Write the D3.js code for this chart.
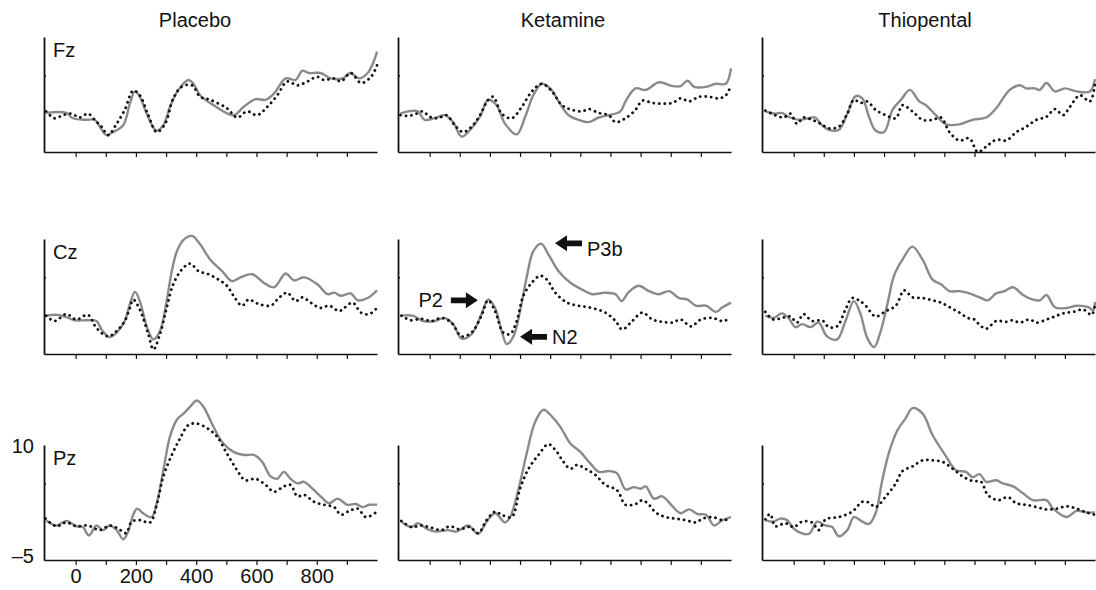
<!DOCTYPE html>
<html>
<head>
<meta charset="utf-8">
<script src="https://cdn.jsdelivr.net/npm/d3@7"></script>
<style>
  body { margin: 0; background: #fff; }
  text { font-family: "Liberation Sans", Arial, sans-serif; fill: #111; }
</style>
</head>
<body>
<div id="chart"></div>
<script>
// Column (condition) and row (electrode site) names
const drugs = ["Placebo", "Ketamine", "Thiopental"];
const sites = ["Fz", "Cz", "Pz"];

// Tick values (ms) and the labels shown on the bottom-left panel only
const xTicks = [0, 100, 200, 300, 400, 500, 600, 700, 800, 900];
const xTickLabels = [0, 200, 400, 600, 800];
const yTickLabels = [10, -5];

// ERP traces as [ms, microvolt] pairs
// solid grey = target, dotted black = standard
const fzPlaSolid = [[-98,0.1],[-31,0.1],[-9,-0.6],[36,-0.8],[63,-0.8],[80,-1.7],[102,-2.8],[124,-2.4],[158,-1.5],[180,1.3],[197,2.9],[213,2.2],[236,0.0],[267,-2.2],[291,-1.5],[313,0.9],[341,3.1],[374,4.4],[391,3.9],[413,2.4],[458,1.1],[524,-0.2],[558,0.9],[597,1.9],[630,1.8],[658,2.6],[697,4.6],[730,4.4],[752,5.6],[774,5.3],[813,5.3],[847,4.6],[886,4.6],[911,5.3],[941,4.6],[969,5.3],[991,7.0],[1000,8.1]];
const fzPlaDot = [[-98,0.3],[-70,-0.6],[-42,-0.2],[-14,0.0],[13,-0.5],[41,0.0],[63,-0.8],[86,-1.7],[108,-2.8],[136,-1.3],[163,0.5],[191,3.0],[213,2.4],[241,-0.2],[269,-2.4],[297,-1.3],[324,2.0],[352,3.5],[386,3.7],[413,2.2],[447,1.8],[502,0.7],[536,-0.5],[569,0.3],[602,-0.2],[636,0.9],[669,2.4],[702,4.2],[736,3.7],[769,4.2],[802,4.8],[824,4.4],[858,4.6],[880,4.2],[913,5.3],[947,4.0],[980,4.8],[1000,6.3]];

const fzKetSolid = [[-97,0.0],[-72,0.3],[-39,0.3],[-17,-0.8],[22,-0.5],[50,-0.2],[78,-1.1],[106,-3.0],[139,-1.9],[167,-0.4],[194,1.8],[222,1.1],[250,-1.3],[289,-2.7],[317,-0.4],[344,2.4],[372,3.9],[400,3.3],[428,1.6],[461,-0.2],[494,-0.8],[528,-1.1],[561,-0.5],[594,-0.2],[633,0.3],[650,1.6],[683,3.3],[717,3.1],[761,4.1],[806,3.6],[833,3.6],[856,4.3],[878,3.5],[917,3.5],[950,3.9],[983,3.9],[1000,5.9]];
const fzKetDot = [[-97,-0.2],[-72,-0.3],[-44,0.0],[-22,0.3],[0,-0.4],[28,-0.6],[56,-0.2],[83,-1.5],[111,-2.4],[139,-1.7],[167,-0.2],[194,1.8],[211,2.2],[239,0.0],[272,-0.6],[306,0.9],[339,2.9],[372,3.9],[406,2.9],[439,1.1],[472,0.5],[506,0.3],[528,0.6],[561,0.1],[594,-0.2],[617,-1.1],[650,-0.6],[683,0.5],[706,1.7],[739,1.4],[772,1.3],[806,1.4],[833,2.0],[861,1.6],[894,2.2],[928,2.2],[961,2.0],[983,2.4],[1000,3.7]];

const fzThiSolid = [[-94,0.3],[-61,0.0],[-39,0.1],[-17,-0.4],[17,-0.8],[50,-0.6],[72,-0.5],[89,-1.3],[117,-2.1],[150,-2.1],[178,0.0],[206,2.3],[228,2.0],[250,-0.4],[272,-2.2],[300,-2.4],[328,0.5],[356,1.8],[386,3.1],[417,1.6],[439,1.1],[472,-0.2],[506,-1.4],[550,-1.4],[594,-0.8],[639,-0.5],[672,0.7],[717,3.1],[750,3.7],[772,3.3],[800,3.3],[817,3.1],[839,4.0],[867,2.9],[900,3.3],[939,2.9],[983,2.9],[1000,4.5]];
const fzThiDot = [[-94,0.4],[-61,-0.2],[-33,-0.5],[-11,0.0],[11,-1.3],[33,-0.5],[61,-0.8],[89,-1.3],[117,-1.9],[150,-1.7],[178,0.0],[200,1.8],[222,1.4],[244,1.6],[272,0.5],[306,-0.2],[339,-0.6],[361,1.1],[394,0.3],[428,-0.8],[461,-0.8],[489,-0.5],[517,-2.4],[550,-3.5],[583,-3.2],[611,-5.0],[639,-4.3],[672,-3.4],[706,-3.5],[739,-2.4],[772,-1.7],[806,-0.8],[839,-0.4],[867,0.6],[894,-0.2],[917,0.9],[950,2.4],[983,1.6],[1000,3.9]];

const czPlaSolid = [[-98,0.0],[-59,0.1],[-31,-0.2],[-3,-0.6],[36,-0.6],[69,-0.7],[86,-1.8],[113,-2.8],[141,-2.0],[163,-0.7],[180,1.5],[197,3.1],[213,1.9],[236,-1.4],[258,-3.1],[280,-2.0],[302,1.9],[319,5.8],[336,8.4],[358,9.9],[386,10.4],[413,9.3],[447,7.3],[486,5.8],[519,4.5],[547,5.0],[586,5.4],[624,4.3],[658,3.7],[697,5.5],[724,4.6],[758,5.0],[802,4.1],[836,2.8],[858,3.0],[880,2.6],[913,2.9],[936,2.0],[969,2.3],[1000,3.3]];
const czPlaDot = [[-98,0.0],[-70,-0.7],[-31,0.2],[2,-0.5],[41,0.1],[69,-1.6],[108,-2.7],[141,-1.8],[163,-0.7],[180,1.0],[191,2.1],[213,0.8],[241,-2.4],[258,-4.4],[280,-2.4],[302,1.0],[324,4.1],[352,6.0],[380,6.8],[408,5.8],[441,5.4],[474,4.7],[502,3.9],[524,2.6],[552,1.3],[574,2.1],[602,1.6],[647,1.3],[674,2.3],[702,3.0],[730,1.9],[752,2.4],[780,1.7],[813,1.0],[841,1.3],[874,0.6],[891,1.0],[919,1.7],[947,0.4],[974,0.2],[1000,1.0]];

const czKetSolid = [[-94,0.0],[-56,0.0],[-22,-0.7],[17,-0.7],[50,-0.3],[78,-1.1],[106,-3.0],[139,-2.4],[172,0.2],[194,2.1],[217,1.0],[239,-2.0],[256,-3.7],[278,-2.7],[300,0.6],[322,5.0],[344,8.4],[370,9.4],[394,8.0],[428,5.8],[467,4.3],[506,3.4],[539,2.8],[583,3.0],[617,2.8],[637,1.9],[661,3.1],[694,3.9],[728,3.2],[761,2.8],[794,3.2],[828,2.3],[856,2.1],[883,1.3],[917,1.3],[950,0.5],[972,1.1],[1000,1.7]];
const czKetDot = [[-94,0.0],[-61,-0.6],[-28,-0.4],[6,-0.7],[39,-0.3],[72,-0.9],[106,-2.7],[139,-2.2],[172,0.0],[194,2.0],[217,0.6],[244,-2.2],[267,-2.4],[289,-0.7],[311,2.6],[339,4.3],[367,5.2],[389,4.7],[417,3.0],[456,1.7],[494,1.3],[539,1.0],[583,0.4],[617,-0.7],[639,-1.8],[672,-0.7],[706,0.4],[739,-0.5],[772,-0.8],[806,-0.9],[833,-0.5],[867,-1.4],[900,-0.5],[939,-0.3],[972,-0.7],[1000,-0.3]];

const czThiSolid = [[-94,0.0],[-67,-0.3],[-39,0.3],[-17,-0.3],[6,-1.5],[28,-1.1],[56,-1.5],[83,-0.9],[111,-2.7],[144,-3.1],[172,-0.7],[200,1.9],[222,0.2],[244,-2.9],[267,-4.1],[289,-2.0],[311,1.5],[333,5.2],[361,7.3],[394,9.0],[428,7.3],[461,4.7],[489,4.1],[517,3.2],[550,3.2],[583,2.9],[617,2.4],[644,2.0],[672,2.9],[700,3.2],[728,3.7],[761,2.7],[794,2.1],[817,2.0],[839,2.7],[867,1.1],[906,1.0],[939,1.3],[978,1.1],[994,0.7],[1000,1.8]];
const czThiDot = [[-94,0.5],[-67,-0.5],[-39,-0.3],[-11,-0.1],[11,-0.9],[33,0.2],[61,-0.7],[94,-0.6],[117,-1.5],[144,-1.4],[172,0.8],[194,2.3],[217,2.0],[239,1.3],[272,-0.1],[306,0.6],[339,1.3],[367,3.3],[394,2.4],[428,2.3],[461,2.0],[489,1.7],[522,1.0],[550,0.4],[578,-0.3],[600,-0.5],[617,-1.2],[639,-1.7],[672,-0.7],[706,-0.8],[728,-0.6],[750,-0.9],[783,-0.5],[806,-0.9],[839,-0.5],[867,-0.1],[894,0.3],[928,0.5],[961,0.8],[989,0.1],[1000,1.5]];

const pzPlaSolid = [[-100,0.2],[-64,-0.5],[-31,0.1],[2,-0.6],[24,-0.7],[44,-1.8],[69,-0.5],[91,-1.1],[113,-0.5],[136,-1.1],[158,-2.3],[174,-1.3],[191,0.9],[204,1.7],[224,1.1],[252,0.6],[269,2.4],[291,6.7],[313,11.1],[336,13.3],[358,14.1],[380,15.0],[402,15.8],[424,15.0],[452,12.8],[486,10.4],[524,9.1],[558,8.7],[591,8.7],[619,7.8],[647,5.9],[669,5.6],[691,6.5],[713,5.6],[736,5.0],[758,5.2],[786,4.3],[813,3.3],[841,2.4],[869,3.0],[902,2.2],[930,2.3],[952,1.9],[974,2.2],[1000,2.2]];
const pzPlaDot = [[-100,0.4],[-64,-0.6],[-31,-0.1],[2,-0.6],[41,-0.5],[80,-1.1],[113,-0.5],[141,-0.9],[167,-1.5],[186,0.0],[213,0.2],[247,-0.1],[269,2.2],[291,5.9],[319,8.7],[347,10.9],[374,12.6],[402,12.8],[436,12.2],[469,11.1],[502,8.9],[536,6.7],[563,5.4],[597,5.6],[630,4.8],[658,3.9],[691,4.6],[713,4.8],[736,3.3],[758,3.5],[791,2.6],[824,2.2],[858,1.9],[880,0.9],[908,1.4],[936,1.7],[963,0.6],[1000,1.3]];

const pzKetSolid = [[-94,0.0],[-61,-0.7],[-39,-0.2],[-11,-0.9],[22,-1.3],[61,-1.1],[89,-1.3],[128,-0.5],[161,-1.6],[189,0.0],[217,1.1],[250,-0.1],[267,0.6],[294,4.1],[322,8.9],[350,13.0],[378,14.6],[406,13.7],[433,12.4],[467,10.2],[500,9.1],[533,7.6],[561,6.5],[594,6.6],[622,6.3],[650,4.2],[678,4.5],[700,4.3],[717,4.6],[744,3.0],[772,3.3],[806,2.0],[833,1.1],[861,1.6],[889,1.0],[917,0.9],[944,-0.5],[972,0.2],[1000,0.6]];
const pzKetDot = [[-94,0.1],[-61,-0.7],[-28,-0.5],[6,-0.8],[39,-1.1],[67,-0.6],[100,-1.0],[133,-0.7],[161,-1.5],[189,0.2],[217,1.3],[239,0.9],[272,0.6],[300,4.3],[328,6.9],[361,8.7],[394,10.1],[422,9.1],[444,7.8],[467,6.9],[489,7.4],[517,6.9],[550,6.1],[583,4.8],[622,4.1],[650,2.2],[683,2.3],[706,2.8],[728,2.2],[750,1.2],[783,0.6],[817,0.4],[850,0.2],[883,-0.1],[906,0.4],[939,0.6],[972,0.2],[1000,0.4]];

const pzThiSolid = [[-94,0.2],[-67,0.0],[-44,0.4],[-22,0.2],[6,-1.1],[50,-1.6],[78,0.0],[106,-0.5],[128,-0.7],[150,-1.9],[178,-1.1],[200,0.6],[228,0.0],[250,-0.3],[272,1.1],[294,5.4],[317,9.1],[344,11.9],[372,13.5],[394,14.8],[428,14.1],[461,11.3],[506,8.5],[539,6.7],[572,6.5],[594,5.8],[617,6.2],[639,5.2],[672,5.4],[694,5.0],[728,4.6],[761,3.7],[794,2.8],[839,2.8],[861,1.7],[906,0.6],[939,1.4],[972,1.2],[1000,1.2]];
const pzThiDot = [[-94,0.3],[-78,1.0],[-61,-0.6],[-28,-0.2],[0,-0.7],[28,0.0],[61,-0.1],[83,-1.1],[106,0.3],[150,0.6],[194,1.3],[228,2.6],[250,2.5],[272,1.9],[306,3.3],[339,5.0],[361,6.6],[394,7.2],[428,8.0],[461,8.0],[494,7.8],[528,6.9],[561,5.9],[594,5.3],[622,5.2],[644,3.5],[678,2.8],[711,3.2],[739,2.4],[772,2.2],[806,1.9],[839,1.6],[872,1.7],[906,2.0],[939,1.7],[972,1.2],[1000,0.9]];

// Component labels in the Ketamine / Cz panel: arrow tip in data coords, dir +1 = points right
const annotations = [
  { label: "P2", t: 160, v: 2.0, dir: 1 },
  { label: "N2", t: 300, v: -2.76, dir: -1 },
  { label: "P3b", t: 416, v: 9.43, dir: -1 }
];

// rows = sites, cols = drugs
const traces = [
  [[fzPlaSolid, fzPlaDot], [fzKetSolid, fzKetDot], [fzThiSolid, fzThiDot]],
  [[czPlaSolid, czPlaDot], [czKetSolid, czKetDot], [czThiSolid, czThiDot]],
  [[pzPlaSolid, pzPlaDot], [pzKetSolid, pzKetDot], [pzThiSolid, pzThiDot]]
];

// Layout
const width = 1096, height = 590;
const colX = [44, 398, 762];
const rowY = [37, 239, 445];
const titleX = [195, 563, 925];
const panelW = 333, panelH = 115;

const svg = d3.select("#chart").append("svg")
    .attr("width", width)
    .attr("height", height);

const x = d3.scaleLinear().domain([-105, 1000]).range([0, panelW]);
const y = d3.scaleLinear().domain([-5, 10]).range([panelH, 0]);

const line = d3.line()
    .x(d => x(d[0]))
    .y(d => y(d[1]))
    .curve(d3.curveCatmullRom.alpha(0.5));

// Column titles
svg.selectAll(".col-title")
    .data(drugs)
    .join("text")
      .attr("class", "col-title")
      .attr("x", (d, j) => titleX[j])
      .attr("y", 27)
      .attr("text-anchor", "middle")
      .style("font-size", "20px")
      .text(d => d);

sites.forEach((site, i) => {
    drugs.forEach((drug, j) => {
        const g = svg.append("g")
            .attr("transform", `translate(${colX[j]},${rowY[i]})`);

        const isCorner = (i === 2 && j === 0);

        // x axis with ticks every 100 ms
        const xAxis = g.append("g")
            .attr("transform", `translate(0,${panelH})`)
            .call(d3.axisBottom(x)
                .tickValues(xTicks)
                .tickSizeInner(5)
                .tickSizeOuter(0)
                .tickPadding(4)
                .tickFormat(d => (isCorner && xTickLabels.includes(d)) ? d : ""));
        xAxis.select(".domain").attr("stroke", "#111").attr("stroke-width", 1.6);
        xAxis.selectAll(".tick line").attr("stroke", "#111").attr("stroke-width", 1.2);
        xAxis.selectAll("text").style("font-size", "20px").attr("fill", "#111")
            .style("font-family", "'Liberation Sans', Arial, sans-serif");

        // y axis, one small inward tick at 5
        const yAxis = g.append("g")
            .call(d3.axisLeft(y)
                .tickValues([5])
                .tickSizeInner(-2)
                .tickSizeOuter(0)
                .tickFormat(""));
        yAxis.select(".domain").attr("stroke", "#111").attr("stroke-width", 1.8);
        yAxis.selectAll(".tick line").attr("stroke", "#111").attr("stroke-width", 1.5);

        if (isCorner) {
            g.selectAll(".ylab")
                .data(yTickLabels)
                .join("text")
                  .attr("class", "ylab")
                  .attr("x", -10)
                  .attr("y", d => y(d) + (d > 0 ? 8 : 3))
                  .attr("text-anchor", "end")
                  .style("font-size", "20px")
                  .text(d => d < 0 ? "\u2013" + Math.abs(d) : d);
        }

        // site label, first column only
        if (j === 0) {
            g.append("text")
                .attr("x", 9)
                .attr("y", 20)
                .style("font-size", "20px")
                .text(site);
        }

        const [solid, dotted] = traces[i][j];

        g.append("path")
            .datum(solid)
            .attr("fill", "none")
            .attr("stroke", "#8a8a8a")
            .attr("stroke-width", 2.4)
            .attr("stroke-linejoin", "round")
            .attr("d", line);

        g.append("path")
            .datum(dotted)
            .attr("fill", "none")
            .attr("stroke", "#111")
            .attr("stroke-width", 2.8)
            .attr("stroke-linecap", "round")
            .attr("stroke-dasharray", "0.1 5.4")
            .attr("d", line);

        // arrows in Ketamine Cz
        if (i === 1 && j === 1) {
            const arrowLen = 27, headLen = 12, headHalf = 8, shaftHalf = 2.8;
            const textShift = { P2: 7, N2: 7, P3b: 13 };
            annotations.forEach(a => {
                const px = x(a.t), py = y(a.v), s = a.dir;
                const tail = px - s * arrowLen, neck = px - s * headLen;
                const pts = [
                    [tail, py - shaftHalf], [neck, py - shaftHalf], [neck, py - headHalf],
                    [px, py], [neck, py + headHalf], [neck, py + shaftHalf], [tail, py + shaftHalf]
                ];
                g.append("path")
                    .attr("d", "M" + pts.map(p => p.join(",")).join("L") + "Z")
                    .attr("fill", "#111");
                g.append("text")
                    .attr("x", s > 0 ? px - 35 : px + 32)
                    .attr("y", py + textShift[a.label])
                    .attr("text-anchor", s > 0 ? "end" : "start")
                    .style("font-size", "20px")
                    .text(a.label);
            });
        }
    });
});
</script>
</body>
</html>
